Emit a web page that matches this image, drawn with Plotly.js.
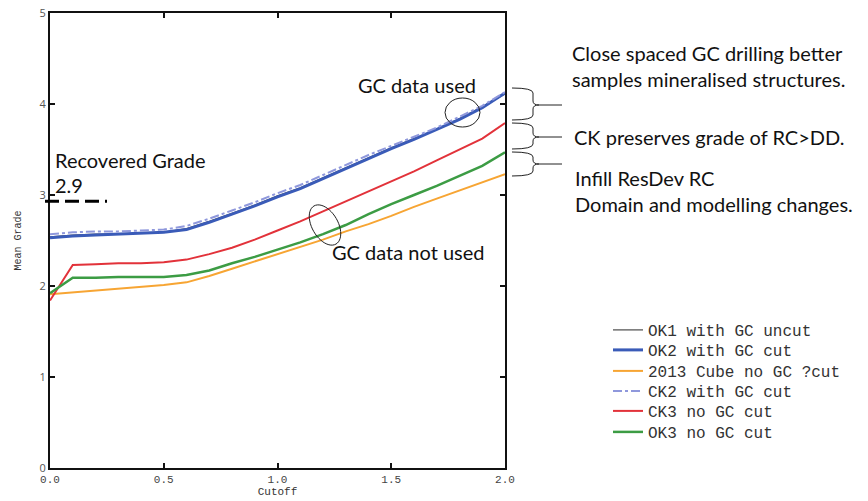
<!DOCTYPE html>
<html>
<head>
<meta charset="utf-8">
<script src="https://cdn.plot.ly/plotly-3.0.1.min.js"></script>
<style>html,body{margin:0;padding:0;background:#fff;}#chart{width:868px;height:501px;}</style>
</head>
<body>
<div id="chart"></div>
<script>
// ---- data ----
const cutoff = [0.0,0.1,0.2,0.3,0.4,0.5,0.6,0.7,0.8,0.9,1.0,1.1,1.2,1.3,1.4,1.5,1.6,1.7,1.8,1.9,2.0];
const ok1WithGcUncut = [2.54,2.56,2.57,2.57,2.58,2.59,2.63,2.71,2.80,2.89,2.99,3.08,3.19,3.30,3.41,3.52,3.62,3.72,3.84,3.97,4.11];
const ok2WithGcCut   = [2.53,2.55,2.56,2.57,2.58,2.59,2.62,2.70,2.79,2.88,2.98,3.07,3.18,3.29,3.40,3.51,3.61,3.72,3.83,3.96,4.12];
const cube2013NoGc   = [1.91,1.93,1.95,1.97,1.99,2.01,2.04,2.11,2.19,2.27,2.35,2.43,2.51,2.60,2.68,2.77,2.87,2.96,3.05,3.14,3.23];
const ck2WithGcCut   = [2.57,2.59,2.60,2.60,2.61,2.62,2.66,2.74,2.83,2.92,3.02,3.11,3.22,3.33,3.44,3.54,3.64,3.74,3.86,3.98,4.13];
const ck3NoGcCut     = [1.84,2.23,2.24,2.25,2.25,2.26,2.29,2.35,2.42,2.51,2.61,2.71,2.82,2.93,3.04,3.15,3.26,3.38,3.50,3.62,3.79];
const ok3NoGcCut     = [1.92,2.09,2.09,2.10,2.10,2.10,2.12,2.17,2.25,2.32,2.40,2.48,2.57,2.67,2.79,2.90,3.00,3.10,3.21,3.32,3.47];
const seriesNames = ["OK1 with GC uncut","OK2 with GC cut","2013 Cube no GC ?cut","CK2 with GC cut","CK3 no GC cut","OK3 no GC cut"];
const xTickVals = [0,0.5,1,1.5,2];
const xTickText = ["0.0","0.5","1.0","1.5","2.0"];
const yTickVals = [0,1,2,3,4,5];
const recoveredGrade = 2.93;

// ---- layout helpers (pixel -> paper) ----
const W = 868, H = 501, L = 50, R = 505, T = 13, B = 468;
const px = x => (x - L) / (R - L);
const py = y => (B - y) / (B - T);

function bracePath(yt, ym, yb) {
  const xa = 512, xs = 533, xt = 562;
  const P = (x, y) => px(x).toFixed(5) + "," + py(y).toFixed(5);
  return "M " + P(xa, yt) + " Q " + P(xs, yt) + " " + P(xs, yt + 5) +
         " L " + P(xs, ym - 4) + " Q " + P(xs, ym) + " " + P(xs + 6, ym) +
         " L " + P(xt, ym) +
         " M " + P(xs + 6, ym) + " Q " + P(xs, ym) + " " + P(xs, ym + 4) +
         " L " + P(xs, yb - 5) + " Q " + P(xs, yb) + " " + P(xa, yb);
}
function ellipsePath(cx, cy, a, b, deg) {
  const th = deg * Math.PI / 180;
  let s = "";
  for (let i = 0; i <= 48; i++) {
    const t = 2 * Math.PI * i / 48;
    const ex = a * Math.cos(t), ey = b * Math.sin(t);
    const x = cx + ex * Math.cos(th) - ey * Math.sin(th);
    const y = cy + ex * Math.sin(th) + ey * Math.cos(th);
    s += (i === 0 ? "M " : " L ") + px(x).toFixed(5) + "," + py(y).toFixed(5);
  }
  return s + " Z";
}

const legendIds = ["legend","legend2","legend3","legend4","legend5","legend6"];
const traces = [
  {x: cutoff, y: ok1WithGcUncut, name: seriesNames[0], line: {color: "#4a4a4a", width: 1.2}},
  {x: cutoff, y: ok2WithGcCut,   name: seriesNames[1], line: {color: "#3a5bb8", width: 3}},
  {x: cutoff, y: cube2013NoGc,   name: seriesNames[2], line: {color: "#f7a533", width: 2}},
  {x: cutoff, y: ck2WithGcCut,   name: seriesNames[3], line: {color: "#8f98dc", width: 2, dash: "dashdot"}},
  {x: cutoff, y: ck3NoGcCut,     name: seriesNames[4], line: {color: "#e2323a", width: 2}},
  {x: cutoff, y: ok3NoGcCut,     name: seriesNames[5], line: {color: "#3c9c44", width: 2.5}}
].map((t, i) => Object.assign({type: "scatter", mode: "lines", hoverinfo: "skip", legend: legendIds[i]}, t));

const annFont = {family: "Lato, 'Open Sans', sans-serif", size: 20, color: "#111"};
function txt(text, x, y) {
  return {text: text, xref: "paper", yref: "paper", x: px(x), y: py(y),
          xanchor: "left", yanchor: "middle", showarrow: false, font: annFont};
}

const layout = {
  width: W, height: H,
  margin: {l: L, r: W - R, t: T, b: H - B},
  paper_bgcolor: "#fff", plot_bgcolor: "#fff",
  showlegend: true,
  xaxis: {
    range: [0, 2], showgrid: false, zeroline: false,
    showline: true, linecolor: "#111", linewidth: 2, mirror: "ticks",
    ticks: "inside", ticklen: 5, tickwidth: 2, tickcolor: "#111",
    tickvals: xTickVals, ticktext: xTickText,
    tickfont: {family: "'Liberation Mono', monospace", size: 11, color: "#444"},
    title: {text: "Cutoff", standoff: 2,
            font: {family: "'Liberation Mono', monospace", size: 11, color: "#333"}}
  },
  yaxis: {
    range: [0, 5], showgrid: false, zeroline: false,
    showline: true, linecolor: "#111", linewidth: 2, mirror: "ticks",
    ticks: "inside", ticklen: 5, tickwidth: 2, tickcolor: "#111",
    tickvals: yTickVals,
    tickfont: {family: "'Open Sans', sans-serif", size: 11, color: "#555"},
    title: {text: "Mean Grade", standoff: 16,
            font: {family: "'Liberation Mono', monospace", size: 10, color: "#333"}}
  },
  shapes: [
    {type: "line", xref: "paper", yref: "y", x0: px(45), x1: px(107), y0: recoveredGrade, y1: recoveredGrade,
     line: {color: "#000", width: 3, dash: "14px,6px"}},
    {type: "circle", xref: "paper", yref: "paper", x0: px(445), x1: px(480), y0: py(98), y1: py(127),
     line: {color: "#222", width: 1}},
    {type: "path", xref: "paper", yref: "paper", path: ellipsePath(325, 225, 22, 13, 60), line: {color: "#222", width: 1}},
    {type: "path", xref: "paper", yref: "paper", path: bracePath(88, 105, 120), line: {color: "#222", width: 1}},
    {type: "path", xref: "paper", yref: "paper", path: bracePath(123, 137, 149), line: {color: "#222", width: 1}},
    {type: "path", xref: "paper", yref: "paper", path: bracePath(152, 164, 176), line: {color: "#222", width: 1}}
  ],
  annotations: [
    txt("Recovered Grade", 53, 160),
    txt("2.9", 53, 185),
    txt("GC data used", 356, 85),
    txt("GC data not used", 330, 252),
    txt("Close spaced GC drilling better", 570, 53),
    txt("samples mineralised structures.", 570, 79),
    txt("CK preserves grade of RC>DD.", 572, 137),
    txt("Infill ResDev RC", 573, 178),
    txt("Domain and modelling changes.", 573, 204)
  ]
};

const rowCenters = [330, 350, 371, 391, 411, 432];
legendIds.forEach((id, i) => {
  layout[id] = {
    x: px(608), y: py(rowCenters[i]), xanchor: "left", yanchor: "middle",
    font: {family: "'Liberation Mono', 'DejaVu Sans Mono', monospace", size: 16, color: "#333"},
    bgcolor: "rgba(0,0,0,0)", itemwidth: 30
  };
});

Plotly.newPlot("chart", traces, layout, {displayModeBar: false, staticPlot: true});
</script>
</body>
</html>
